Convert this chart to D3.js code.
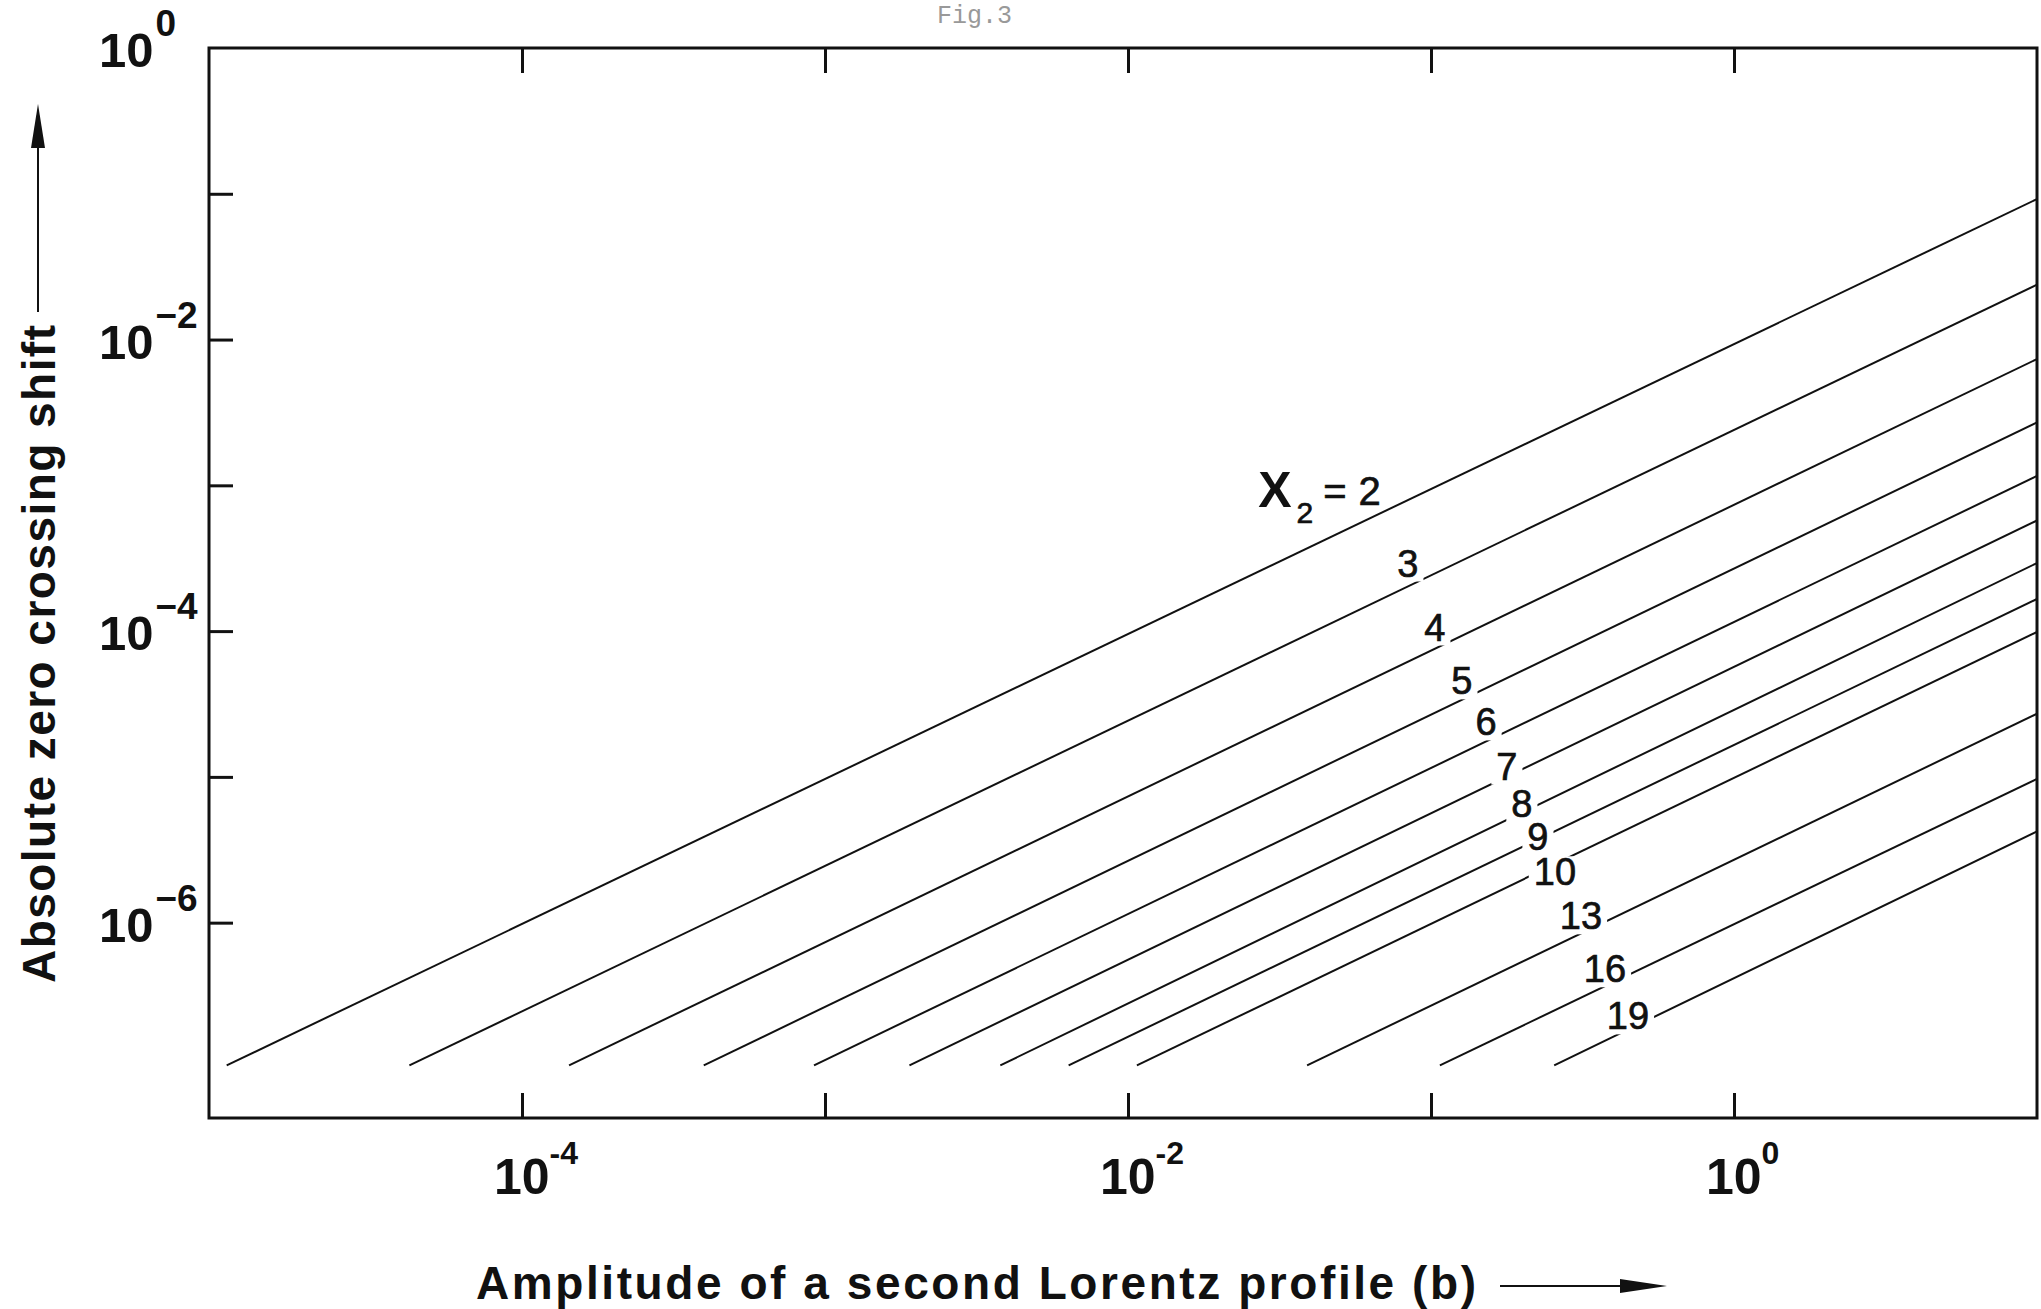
<!DOCTYPE html>
<html>
<head>
<meta charset="UTF-8" />
<style>
  body { margin: 0; background: #fff; }
  svg { display: block; }
  .bold { font-family: "Liberation Sans", Arial, sans-serif; font-weight: bold; fill: #111; }
  .curve { fill: none; stroke: #111; stroke-width: 2; }
  .curve-label { font-family: "Liberation Sans", Arial, sans-serif; font-size: 38px; fill: #111; stroke: #111; stroke-width: 0.7px; }
  .tick line { stroke: #111; stroke-width: 3; }
</style>
</head>
<body>
<svg></svg>
<script src="https://d3js.org/d3.v7.min.js"></script>
<script>
// X2 value of every curve and the two ends of each (straight, log-log) line
const curveNames = ["2", "3", "4", "5", "6", "7", "8", "9", "10", "13", "16", "19"];
const startAmplitude = [1.06e-5, 4.25e-5, 1.43e-4, 3.98e-4, 9.2e-4, 1.9e-3, 3.79e-3, 6.37e-3, 1.07e-2, 3.9e-2, 0.107, 0.255];
const startShift = 1.05e-7;
const endAmplitude = 10;
const endShift = [9.2e-2, 2.38e-2, 7.35e-3, 2.7e-3, 1.16e-3, 5.74e-4, 2.93e-4, 1.66e-4, 9.86e-5, 2.71e-5, 9.68e-6, 4.23e-6];

// where the curve labels sit (b, shift)
const labelAmplitude = [0.0269, 0.0839, 0.103, 0.1265, 0.152, 0.178, 0.1995, 0.2254, 0.2564, 0.3126, 0.375, 0.4467];
const labelShift = [7.13e-4, 2.94e-4, 1.07e-4, 4.57e-5, 2.39e-5, 1.19e-5, 6.55e-6, 3.89e-6, 2.24e-6, 1.117e-6, 4.84e-7, 2.3e-7];

const xTicks = [1e-4, 1e-3, 1e-2, 1e-1, 1];
const xLabelExp = [-4, -2, 0];
const yTicks = [1e-1, 1e-2, 1e-3, 1e-4, 1e-5, 1e-6];
const yLabelExp = [0, -2, -4, -6];

let width = 2041, height = 1309;
let plotLeft = 209, plotRight = 2037, plotTop = 48, plotBottom = 1118;

let svg = d3.select("svg").attr("width", width).attr("height", height);

let x = d3.scaleLog().domain([Math.pow(10, -5.033), 10]).range([plotLeft, plotRight]);
let y = d3.scaleLog().domain([Math.pow(10, -7.34), 1]).range([plotBottom, plotTop]);

// small typewriter caption
svg.append("text")
  .attr("x", 937).attr("y", 23)
  .style("font-family", "'Liberation Mono', monospace")
  .style("font-size", "25px")
  .style("fill", "#999")
  .text("Fig.3");

// ticks (inward)
svg.append("g").attr("transform", "translate(0," + plotBottom + ")")
  .call(d3.axisTop(x).tickValues(xTicks).tickSize(25).tickFormat(""))
  .call(g => g.select(".domain").remove());
svg.append("g").attr("transform", "translate(0," + plotTop + ")")
  .call(d3.axisBottom(x).tickValues(xTicks).tickSize(25).tickFormat(""))
  .call(g => g.select(".domain").remove());
svg.append("g").attr("transform", "translate(" + plotLeft + ",0)")
  .call(d3.axisRight(y).tickValues(yTicks).tickSize(24).tickFormat(""))
  .call(g => g.select(".domain").remove());

// frame
svg.append("rect")
  .attr("x", plotLeft).attr("y", plotTop)
  .attr("width", plotRight - plotLeft).attr("height", plotBottom - plotTop)
  .attr("fill", "none").attr("stroke", "#111").attr("stroke-width", 3);

// curves
let curves = curveNames.map((name, i) => ({
  name: name,
  pts: [[startAmplitude[i], startShift], [endAmplitude, endShift[i]]]
}));
let line = d3.line().x(d => x(d[0])).y(d => y(d[1]));
svg.append("g").selectAll("path")
  .data(curves).enter().append("path")
  .attr("class", "curve")
  .attr("d", d => line(d.pts));

// curve labels, with a white patch that breaks the line under them
let labelLayer = svg.append("g");
curveNames.forEach((name, i) => {
  let g = labelLayer.append("g");
  let t;
  if (i === 0) {
    t = g.append("text").attr("class", "curve-label")
      .attr("x", x(labelAmplitude[i])).attr("y", y(labelShift[i]));
    t.append("tspan").style("font-size", "50px").style("font-weight", "bold").style("stroke-width", 0).text("X");
    t.append("tspan").attr("dx", 5).attr("dy", 16).style("font-size", "30px").text("2");
    t.append("tspan").attr("dx", 10).attr("dy", -18).style("font-size", "40px").text("=");
    t.append("tspan").attr("dx", 12).style("font-size", "40px").text(name);
  } else {
    t = g.append("text").attr("class", "curve-label")
      .attr("x", x(labelAmplitude[i])).attr("y", y(labelShift[i]))
      .attr("dy", "0.36em")
      .attr("text-anchor", "middle")
      .text(name);
    let bb = t.node().getBBox();
    g.insert("rect", "text")
      .attr("x", bb.x - 5).attr("y", bb.y + 5)
      .attr("width", bb.width + 10).attr("height", bb.height - 8)
      .attr("fill", "#fff");
  }
});

// x tick labels
xLabelExp.forEach(e => {
  let t = svg.append("text").attr("class", "bold")
    .attr("x", x(Math.pow(10, e)) - 28).attr("y", 1194)
    .style("font-size", "50px");
  t.append("tspan").text("10");
  t.append("tspan").attr("dy", -30).style("font-size", "32px")
    .text(e === 0 ? "0" : "-" + Math.abs(e));
});

// y tick labels
yLabelExp.forEach(e => {
  let ty = y(Math.pow(10, e));
  let t = svg.append("text").attr("class", "bold")
    .attr("x", 99).attr("y", ty + 19)
    .style("font-size", "49px");
  t.append("tspan").text("10");
  t.append("tspan").attr("dx", 2).attr("dy", -31).style("font-size", "37px")
    .text(e === 0 ? "0" : "\u2212" + Math.abs(e));
});

// axis titles
svg.append("text").attr("class", "bold")
  .attr("x", 476).attr("y", 1299)
  .style("font-size", "46px")
  .attr("textLength", 1000).attr("lengthAdjust", "spacing")
  .text("Amplitude of a second  Lorentz profile (b)");

svg.append("text").attr("class", "bold")
  .attr("transform", "translate(55,983) rotate(-90)")
  .style("font-size", "46px")
  .attr("textLength", 658).attr("lengthAdjust", "spacing")
  .text("Absolute  zero crossing  shift");

// arrows next to the titles
svg.append("line").attr("x1", 1500).attr("y1", 1286).attr("x2", 1630).attr("y2", 1286)
  .attr("stroke", "#111").attr("stroke-width", 2);
svg.append("path").attr("d", "M1620,1279 L1667,1286 L1620,1293 Z").attr("fill", "#111");

svg.append("line").attr("x1", 38).attr("y1", 312).attr("x2", 38).attr("y2", 140)
  .attr("stroke", "#111").attr("stroke-width", 2);
svg.append("path").attr("d", "M31,148 L38,104 L45,148 Z").attr("fill", "#111");
</script>
</body>
</html>
